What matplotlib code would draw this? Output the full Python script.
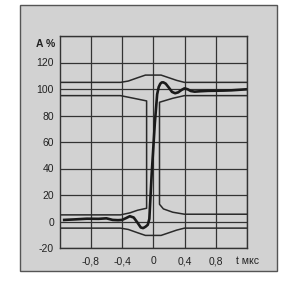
import matplotlib
matplotlib.use("Agg")
import matplotlib.pyplot as plt
from matplotlib.patches import Rectangle
from matplotlib.transforms import blended_transform_factory

plt.rcParams['font.family'] = ['Liberation Sans', 'DejaVu Sans']

# ---- data ----
x_ticks = [-0.8, -0.4, 0.0, 0.4, 0.8, 1.2]
x_tick_labels = ["-0,8", "-0,4", "0", "0,4", "0,8", "t мкс"]
y_ticks = [-20, 0, 20, 40, 60, 80, 100, 120]
y_tick_labels = ["-20", "0", "20", "40", "60", "80", "100", "120"]
y_axis_title = "A %"

# upper tolerance limit (after step)
upper_t = [-1.2, -0.42, -0.32, -0.2, -0.1, 0.1, 0.2, 0.3, 0.4, 1.2]
upper_v = [105, 105, 106, 108.5, 110.5, 110.5, 108.5, 106.5, 105, 105]
# lower tolerance limit (before step)
lower_t = [-1.2, -0.42, -0.32, -0.2, -0.1, 0.1, 0.2, 0.3, 0.4, 1.2]
lower_v = [-5, -5, -6, -8.5, -10.5, -10.5, -8.5, -6.5, -5, -5]
# left mask (forbidden region before the step)
left_mask_t = [-1.2, -0.42, -0.25, -0.085, -0.085, -0.2, -0.3, -0.42, -1.2]
left_mask_v = [95, 95, 93, 91, 10, 8.5, 6.5, 5, 5]
# right mask (forbidden region after the step)
right_mask_t = [1.2, 0.4, 0.25, 0.08, 0.08, 0.13, 0.25, 0.4, 1.2]
right_mask_v = [95, 95, 93, 90, 13, 9.5, 7, 5.5, 5.5]
# measured step response
resp_t = [-1.14, -1.0, -0.85, -0.7, -0.6, -0.52, -0.45, -0.4, -0.35, -0.3,
          -0.25, -0.2, -0.16, -0.13, -0.1, -0.07, -0.05, -0.02, 0.0, 0.02,
          0.05, 0.07, 0.09, 0.11, 0.13, 0.16, 0.2, 0.24, 0.28, 0.32, 0.36,
          0.4, 0.44, 0.48, 0.53, 0.6, 0.7, 0.8, 0.9, 1.0, 1.1, 1.2]
resp_v = [1.2, 1.6, 2.1, 2.0, 2.4, 1.2, 1.0, 1.2, 2.5, 4.0,
          3.0, -1.0, -4.5, -5.0, -4.0, -2.5, 2.0, 36.0, 55.0, 74.0,
          96.0, 101.5, 104.0, 105.0, 105.0, 104.0, 101.0, 97.8, 96.8, 97.5, 99.2,
          100.5, 99.8, 98.5, 98.0, 98.3, 98.6, 98.7, 98.8, 99.0, 99.4, 99.8]

# ---- figure ----
W, H = 294, 282
fig = plt.figure(figsize=(W / 100, H / 100), dpi=100)
fig.patch.set_facecolor('white')

panel_color = '#d2d2d2'
fig.add_artist(Rectangle((20 / W, (H - 271) / H), 257 / W, 266 / H,
                         transform=fig.transFigure, facecolor=panel_color,
                         edgecolor='#555555', linewidth=1.0, zorder=0))

ax = fig.add_axes([59.5 / W, (H - 248) / H, (247 - 59.5) / W, (248 - 36) / H])
ax.set_facecolor(panel_color)
ax.set_xlim(-1.2, 1.2)
ax.set_ylim(-20, 140)

line_col = '#2a2a2a'
# grid
ax.set_xticks(x_ticks)
ax.set_xticklabels(x_tick_labels)
ax.set_yticks(y_ticks + [140])
ax.set_yticklabels(y_tick_labels + [""])
ax.grid(True, color='#333333', linewidth=0.9)
ax.tick_params(length=0, labelsize=7.5, colors='#222222')
ax.tick_params(axis='x', pad=6)
ax.tick_params(axis='y', pad=4)
for s in ax.spines.values():
    s.set_color('#333333')
    s.set_linewidth(1.0)

ax.plot(upper_t, upper_v, color=line_col, lw=1.1)
ax.plot(lower_t, lower_v, color=line_col, lw=1.1)
ax.plot(left_mask_t, left_mask_v, color=line_col, lw=1.1)
ax.plot(right_mask_t, right_mask_v, color=line_col, lw=1.1)
ax.plot(resp_t, resp_v, color='#1a1a1a', lw=1.9, solid_joinstyle='round')

tr = blended_transform_factory(ax.transAxes, ax.transData)
ax.text(-0.02, 134, y_axis_title, transform=tr, ha='right', va='center',
        fontsize=7.5, fontweight='bold', color='#222222')

fig.savefig('out.png', dpi=100)
